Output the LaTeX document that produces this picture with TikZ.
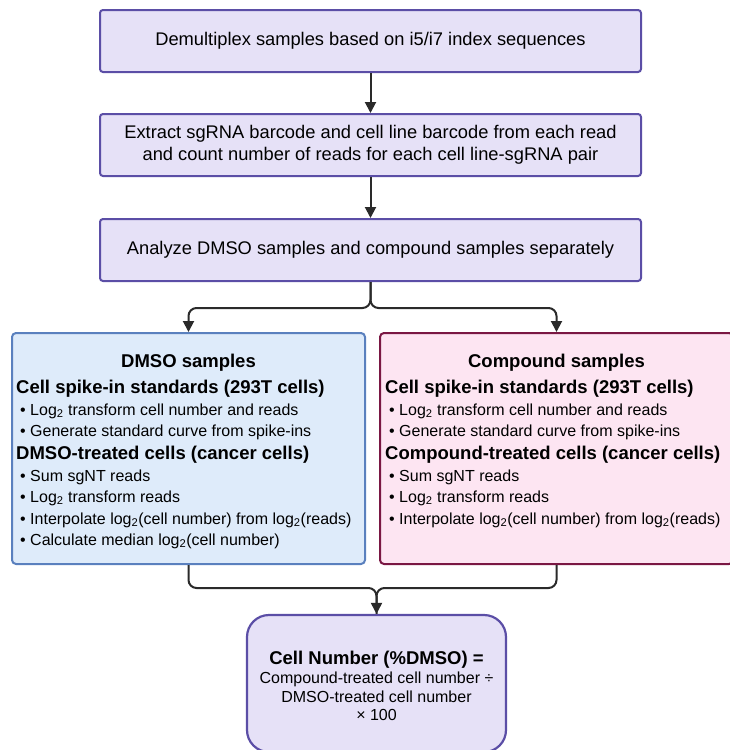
\documentclass[tikz,border=0pt]{standalone}
\usepackage{fontspec}
\setmainfont{Liberation Sans}
\usetikzlibrary{arrows.meta}
\definecolor{topfill}{HTML}{E6E1F7}
\definecolor{topdraw}{HTML}{5B4EA6}
\definecolor{dfill}{HTML}{DEEBFA}
\definecolor{ddraw}{HTML}{5A80BE}
\definecolor{cfill}{HTML}{FDE5F2}
\definecolor{cdraw}{HTML}{7A1743}
\definecolor{conncol}{HTML}{2A2A2A}
\begin{document}
\begin{tikzpicture}[x=1pt,y=-1pt,
  stepbox/.style={draw=topdraw, fill=topfill, line width=2pt, rounded corners=3pt,
    minimum width=541pt, minimum height=62pt, inner sep=0pt, align=center,
    font=\fontsize{18.3}{22}\selectfont},
  panel/.style={line width=2pt, rounded corners=4pt, minimum width=353pt,
    minimum height=231pt, inner sep=0pt},
  conn/.style={draw=conncol, line width=2pt, rounded corners=8pt,
    -{Triangle[length=11pt,width=11pt]}},
  plain/.style={draw=conncol, line width=2pt, rounded corners=8pt},
  head/.style={anchor=base west, inner sep=0pt, font=\bfseries\fontsize{18.5}{22}\selectfont},
  headc/.style={anchor=base, inner sep=0pt, font=\bfseries\fontsize{18.5}{22}\selectfont},
  bul/.style={anchor=base west, inner sep=0pt, font=\fontsize{16}{19}\selectfont},
  bulc/.style={anchor=base, inner sep=0pt, font=\fontsize{16}{19}\selectfont},
]
\useasboundingbox (0,0) rectangle (729,750);

% top steps
\node[stepbox] (b1) at (370.5,41) {Demultiplex samples based on i5/i7 index sequences};
\node[stepbox] (b2) at (370.5,145) {Extract sgRNA barcode and cell line barcode from each read\\and count number of reads for each cell line-sgRNA pair};
\node[stepbox] (b3) at (370.5,250) {Analyze DMSO samples and compound samples separately};

% panels
\node[panel, draw=ddraw, fill=dfill] (dmso) at (188.5,448.5) {};
\node[panel, draw=cdraw, fill=cfill] (comp) at (556.5,448.5) {};

% final box
\node[draw=topdraw, fill=topfill, line width=2.2pt, rounded corners=22pt,
  minimum width=259pt, minimum height=137pt, inner sep=0pt] (fin) at (376.5,683.5) {};

% DMSO text
\node[headc] (dh) at (188.5,367) {DMSO samples};
\node[head] (dh1) at (16,393.5) {Cell spike-in standards (293T cells)};
\node[bul] (d1) at (20,415) {\textbullet\ Log\textsubscript{2} transform cell number and reads};
\node[bul] (d2) at (20,436) {\textbullet\ Generate standard curve from spike-ins};
\node[head] (dh2) at (16,459.5) {DMSO-treated cells (cancer cells)};
\node[bul] (d3) at (20,481) {\textbullet\ Sum sgNT reads};
\node[bul] (d4) at (20,502) {\textbullet\ Log\textsubscript{2} transform reads};
\node[bul] (d5) at (20,524) {\textbullet\ Interpolate log\textsubscript{2}(cell number) from log\textsubscript{2}(reads)};
\node[bul] (d6) at (20,545) {\textbullet\ Calculate median log\textsubscript{2}(cell number)};

% Compound text
\node[headc] (ch) at (556.5,367) {Compound samples};
\node[head] (ch1) at (385,393.5) {Cell spike-in standards (293T cells)};
\node[bul] (c1) at (389,415) {\textbullet\ Log\textsubscript{2} transform cell number and reads};
\node[bul] (c2) at (389,436) {\textbullet\ Generate standard curve from spike-ins};
\node[head] (ch2) at (385,459.5) {Compound-treated cells (cancer cells)};
\node[bul] (c3) at (389,481) {\textbullet\ Sum sgNT reads};
\node[bul] (c4) at (389,502) {\textbullet\ Log\textsubscript{2} transform reads};
\node[bul] (c5) at (389,524) {\textbullet\ Interpolate log\textsubscript{2}(cell number) from log\textsubscript{2}(reads)};

% final text
\node[headc] (fh) at (376.5,664) {Cell Number (\%DMSO) =};
\node[bulc] (f1) at (376.5,683) {Compound-treated cell number ÷};
\node[bulc] (f2) at (376.5,702) {DMSO-treated cell number};
\node[bulc] (f3) at (376.5,720) {× 100};

% connectors
\draw[conn] (b1.south) -- (b2.north);
\draw[conn] (b2.south) -- (b3.north);
\coordinate (spl) at (370.5,308);
\coordinate (mrg) at (376.5,588);
\draw[conn] (b3.south) -- (spl) -| (dmso.north);
\draw[conn] (b3.south) -- (spl) -| (comp.north);
\draw[conn] (dmso.south) |- (mrg) -- (fin.north);
\draw[plain] (comp.south) |- (mrg) -- (fin.north);
\end{tikzpicture}
\end{document}
